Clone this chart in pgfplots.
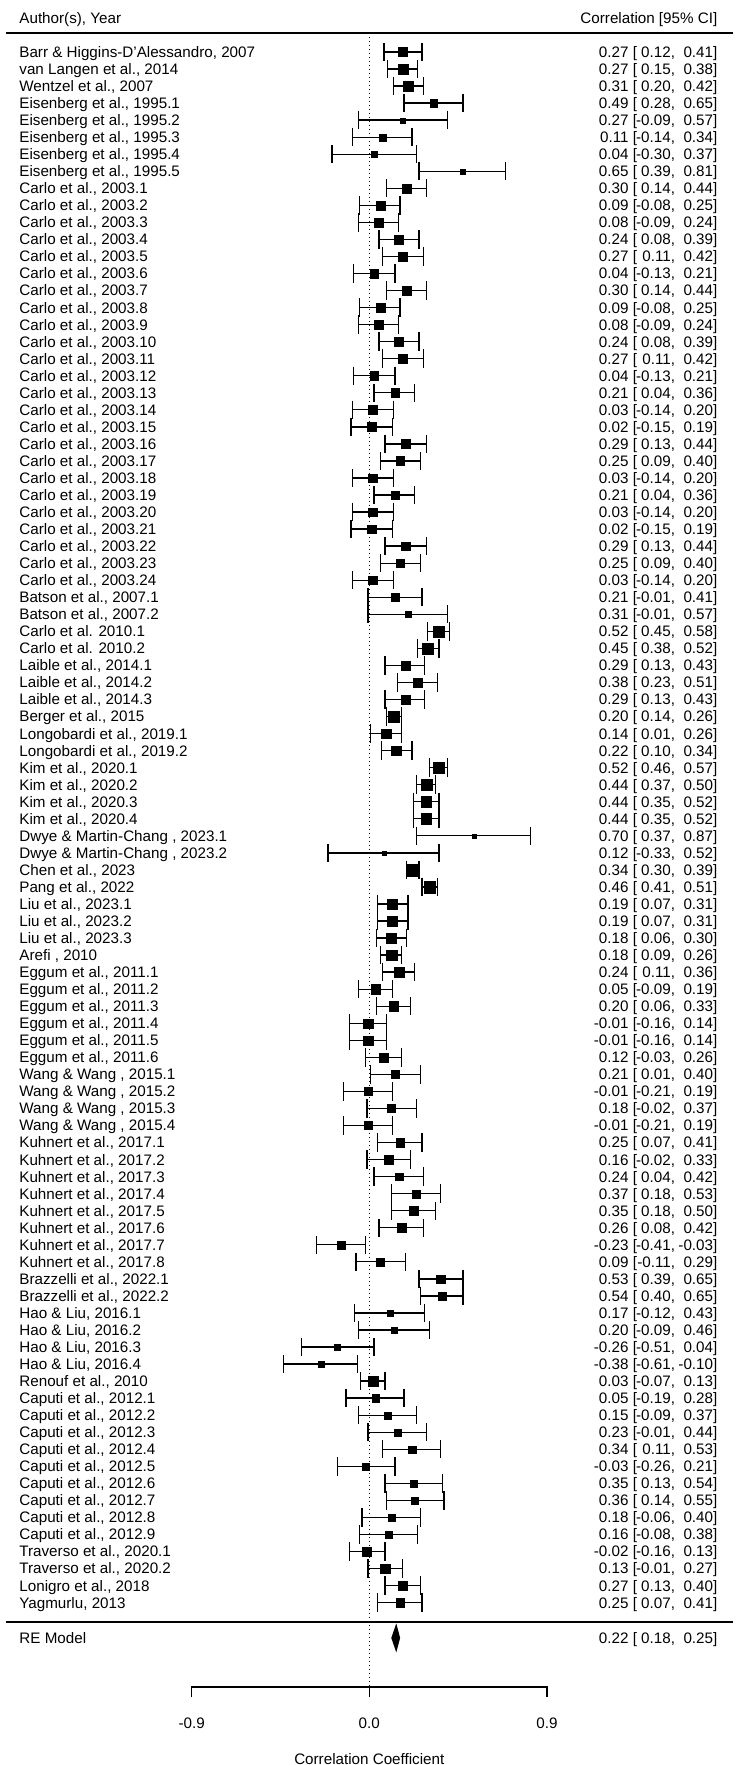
\documentclass[border=0pt]{standalone}
\usepackage{fontspec}
\setmainfont{Liberation Sans}
\usepackage{pgfplots}
\usepackage{pgfplotstable}
\pgfplotsset{compat=1.18}
\newcommand\rowfont{\fontsize{7.6pt}{9pt}\selectfont}

\pgfplotstableread{
y r lo hi
1 0.27 0.12 0.41
2 0.27 0.15 0.38
3 0.31 0.20 0.42
4 0.49 0.28 0.65
5 0.27 -0.09 0.57
6 0.11 -0.14 0.34
7 0.04 -0.30 0.37
8 0.65 0.39 0.81
9 0.30 0.14 0.44
10 0.09 -0.08 0.25
11 0.08 -0.09 0.24
12 0.24 0.08 0.39
13 0.27 0.11 0.42
14 0.04 -0.13 0.21
15 0.30 0.14 0.44
16 0.09 -0.08 0.25
17 0.08 -0.09 0.24
18 0.24 0.08 0.39
19 0.27 0.11 0.42
20 0.04 -0.13 0.21
21 0.21 0.04 0.36
22 0.03 -0.14 0.20
23 0.02 -0.15 0.19
24 0.29 0.13 0.44
25 0.25 0.09 0.40
26 0.03 -0.14 0.20
27 0.21 0.04 0.36
28 0.03 -0.14 0.20
29 0.02 -0.15 0.19
30 0.29 0.13 0.44
31 0.25 0.09 0.40
32 0.03 -0.14 0.20
33 0.21 -0.01 0.41
34 0.31 -0.01 0.57
35 0.52 0.45 0.58
36 0.45 0.38 0.52
37 0.29 0.13 0.43
38 0.38 0.23 0.51
39 0.29 0.13 0.43
40 0.20 0.14 0.26
41 0.14 0.01 0.26
42 0.22 0.10 0.34
43 0.52 0.46 0.57
44 0.44 0.37 0.50
45 0.44 0.35 0.52
46 0.44 0.35 0.52
47 0.70 0.37 0.87
48 0.12 -0.33 0.52
49 0.34 0.30 0.39
50 0.46 0.41 0.51
51 0.19 0.07 0.31
52 0.19 0.07 0.31
53 0.18 0.06 0.30
54 0.18 0.09 0.26
55 0.24 0.11 0.36
56 0.05 -0.09 0.19
57 0.20 0.06 0.33
58 -0.01 -0.16 0.14
59 -0.01 -0.16 0.14
60 0.12 -0.03 0.26
61 0.21 0.01 0.40
62 -0.01 -0.21 0.19
63 0.18 -0.02 0.37
64 -0.01 -0.21 0.19
65 0.25 0.07 0.41
66 0.16 -0.02 0.33
67 0.24 0.04 0.42
68 0.37 0.18 0.53
69 0.35 0.18 0.50
70 0.26 0.08 0.42
71 -0.23 -0.41 -0.03
72 0.09 -0.11 0.29
73 0.53 0.39 0.65
74 0.54 0.40 0.65
75 0.17 -0.12 0.43
76 0.20 -0.09 0.46
77 -0.26 -0.51 0.04
78 -0.38 -0.61 -0.10
79 0.03 -0.07 0.13
80 0.05 -0.19 0.28
81 0.15 -0.09 0.37
82 0.23 -0.01 0.44
83 0.34 0.11 0.53
84 -0.03 -0.26 0.21
85 0.35 0.13 0.54
86 0.36 0.14 0.55
87 0.18 -0.06 0.40
88 0.16 -0.08 0.38
89 -0.02 -0.16 0.13
90 0.13 -0.01 0.27
91 0.27 0.13 0.40
92 0.25 0.07 0.41
}\studies

\pgfplotstableread{
y r lo hi
94.07 0.22 0.18 0.25
}\remodel

\pgfplotstableread{
y r
94.07 0.18
93.22 0.22
94.07 0.25
94.92 0.22
}\rediamond

\begin{document}
\begin{tikzpicture}
\begin{axis}[name=ax, scale only axis, width=369pt, height=882.5pt,
  xmin=-3.0597, xmax=3.0547, ymin=-2.05, ymax=101.53, y dir=reverse,
  clip=false, axis line style={draw=none}, xtick=\empty,
  major tick length=0pt, tick style={draw=none},
  ytick={1,...,92},
  yticklabels={
{Barr \& Higgins-D'Alessandro, 2007},
{van Langen et al., 2014},
{Wentzel et al., 2007},
{Eisenberg et al., 1995.1},
{Eisenberg et al., 1995.2},
{Eisenberg et al., 1995.3},
{Eisenberg et al., 1995.4},
{Eisenberg et al., 1995.5},
{Carlo et al., 2003.1},
{Carlo et al., 2003.2},
{Carlo et al., 2003.3},
{Carlo et al., 2003.4},
{Carlo et al., 2003.5},
{Carlo et al., 2003.6},
{Carlo et al., 2003.7},
{Carlo et al., 2003.8},
{Carlo et al., 2003.9},
{Carlo et al., 2003.10},
{Carlo et al., 2003.11},
{Carlo et al., 2003.12},
{Carlo et al., 2003.13},
{Carlo et al., 2003.14},
{Carlo et al., 2003.15},
{Carlo et al., 2003.16},
{Carlo et al., 2003.17},
{Carlo et al., 2003.18},
{Carlo et al., 2003.19},
{Carlo et al., 2003.20},
{Carlo et al., 2003.21},
{Carlo et al., 2003.22},
{Carlo et al., 2003.23},
{Carlo et al., 2003.24},
{Batson et al., 2007.1},
{Batson et al., 2007.2},
{Carlo et al. 2010.1},
{Carlo et al. 2010.2},
{Laible et al., 2014.1},
{Laible et al., 2014.2},
{Laible et al., 2014.3},
{Berger et al., 2015},
{Longobardi et al., 2019.1},
{Longobardi et al., 2019.2},
{Kim et al., 2020.1},
{Kim et al., 2020.2},
{Kim et al., 2020.3},
{Kim et al., 2020.4},
{Dwye \& Martin-Chang , 2023.1},
{Dwye \& Martin-Chang , 2023.2},
{Chen et al., 2023},
{Pang et al., 2022},
{Liu et al., 2023.1},
{Liu et al., 2023.2},
{Liu et al., 2023.3},
{Arefi , 2010},
{Eggum et al., 2011.1},
{Eggum et al., 2011.2},
{Eggum et al., 2011.3},
{Eggum et al., 2011.4},
{Eggum et al., 2011.5},
{Eggum et al., 2011.6},
{Wang \& Wang , 2015.1},
{Wang \& Wang , 2015.2},
{Wang \& Wang , 2015.3},
{Wang \& Wang , 2015.4},
{Kuhnert et al., 2017.1},
{Kuhnert et al., 2017.2},
{Kuhnert et al., 2017.3},
{Kuhnert et al., 2017.4},
{Kuhnert et al., 2017.5},
{Kuhnert et al., 2017.6},
{Kuhnert et al., 2017.7},
{Kuhnert et al., 2017.8},
{Brazzelli et al., 2022.1},
{Brazzelli et al., 2022.2},
{Hao \& Liu, 2016.1},
{Hao \& Liu, 2016.2},
{Hao \& Liu, 2016.3},
{Hao \& Liu, 2016.4},
{Renouf et al., 2010},
{Caputi et al., 2012.1},
{Caputi et al., 2012.2},
{Caputi et al., 2012.3},
{Caputi et al., 2012.4},
{Caputi et al., 2012.5},
{Caputi et al., 2012.6},
{Caputi et al., 2012.7},
{Caputi et al., 2012.8},
{Caputi et al., 2012.9},
{Traverso et al., 2020.1},
{Traverso et al., 2020.2},
{Lonigro et al., 2018},
{Yagmurlu, 2013}},
  yticklabel style={anchor=base west, inner sep=0pt, xshift=9.5pt, yshift=-2.72pt, font=\rowfont},
  declare function={fz(\z)=0.5*ln((1+\z)/(1-\z));},
  citext/.style={only marks, mark=*, mark size=0pt, mark options={draw opacity=0, fill opacity=0},
    point meta=explicit symbolic,
    nodes near coords={#1},
    every node near coord/.append style={anchor=base east, inner sep=0pt, yshift=-2.72pt, font=\rowfont, black, opacity=1, text opacity=1}},
]
% structural lines
\draw[line width=0.65pt] (axis cs:-3.01,-0.115) -- (axis cs:3.01,-0.115);
\draw[line width=0.65pt] (axis cs:-3.01,93.13) -- (axis cs:3.01,93.13);
\draw[line width=0.6pt, dash pattern=on 0.6pt off 1.4pt] (axis cs:0,-0.115) -- (axis cs:0,96.95);
\draw[line width=0.65pt] (axis cs:-1.4722,97.54) -- (axis cs:-1.4722,96.95) -- (axis cs:1.4722,96.95) -- (axis cs:1.4722,97.54);
\draw[line width=0.65pt] (axis cs:0,96.95) -- (axis cs:0,97.54);
\node[font=\rowfont, anchor=base] at (axis cs:-1.4722,99.36) {-0.9};
\node[font=\rowfont, anchor=base] at (axis cs:0,99.36) {0.0};
\node[font=\rowfont, anchor=base] at (axis cs:1.4722,99.36) {0.9};
\node[font=\rowfont, anchor=base] at (axis cs:0,101.47) {Correlation Coefficient};
\node[font=\rowfont, anchor=base west, inner sep=0pt, yshift=-2.72pt] at (axis cs:-2.902,-1) {Author(s), Year};
\node[font=\rowfont, anchor=base east, inner sep=0pt, yshift=-2.72pt] at (axis cs:2.8865,-1) {Correlation [95\% CI]};
\node[font=\rowfont, anchor=base west, inner sep=0pt, yshift=-2.72pt] at (axis cs:-2.902,94.07) {RE Model};

% CI lines
\addplot[black, line width=0.65pt, quiver={u={fz(\thisrow{hi})-fz(\thisrow{lo})}, v=0}]
  table[x expr={fz(\thisrow{lo})}, y=y] {\studies};
% caps
\addplot[black, only marks, mark=|, mark size=4.6pt, mark options={line width=0.65pt}]
  table[x expr={fz(\thisrow{lo})}, y=y] {\studies};
\addplot[black, only marks, mark=|, mark size=4.6pt, mark options={line width=0.65pt}]
  table[x expr={fz(\thisrow{hi})}, y=y] {\studies};
% squares sized by weight
\addplot[scatter, only marks, mark=square*, point meta=y,
  scatter/use mapped color={draw=black, fill=black},
  mark options={line width=0.1pt},
  visualization depends on={1.925*(0.5+((1/sqrt(((fz(\thisrow{hi})-fz(\thisrow{lo}))/3.92)^2+0.01))-3.833)/5.843) \as \msize},
  scatter/@pre marker code/.append style={/tikz/mark size=\msize}]
  table[x expr={fz(\thisrow{r})}, y=y] {\studies};
% summary diamond
\addplot[fill=black, draw=none] table[x expr={fz(\thisrow{r})}, y=y] {\rediamond};
% annotations: estimate and opening bracket, lower bound with comma, upper bound with closing bracket
\addplot[citext={\pgfplotspointmeta\ [}] table[x expr=2.221, y=y, meta=r] {\studies};
\addplot[citext={\pgfplotspointmeta,}] table[x expr=2.536, y=y, meta=lo] {\studies};
\addplot[citext={\pgfplotspointmeta]}] table[x expr=2.8865, y=y, meta=hi] {\studies};
\addplot[citext={\pgfplotspointmeta\ [}] table[x expr=2.221, y=y, meta=r] {\remodel};
\addplot[citext={\pgfplotspointmeta,}] table[x expr=2.536, y=y, meta=lo] {\remodel};
\addplot[citext={\pgfplotspointmeta]}] table[x expr=2.8865, y=y, meta=hi] {\remodel};
\end{axis}
\pgfresetboundingbox
\path (ax.south west) rectangle (ax.north east);
\end{tikzpicture}
\end{document}
